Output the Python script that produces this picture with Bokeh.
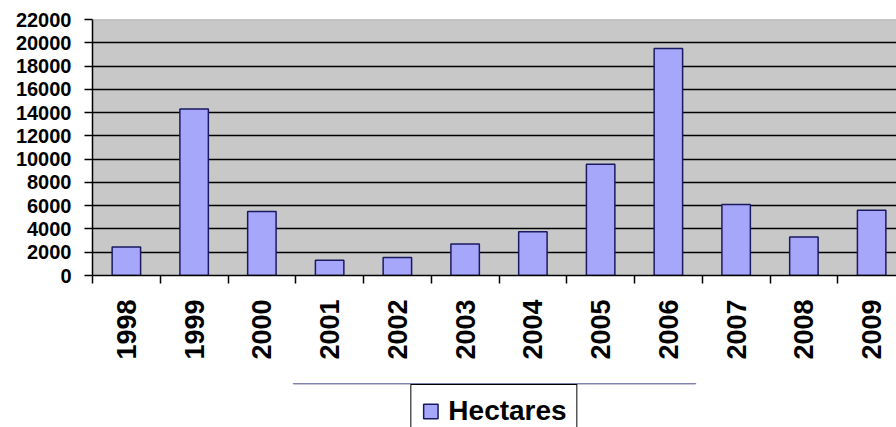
import math
from bokeh.plotting import figure
from bokeh.layouts import column
from bokeh.models import (Range1d, FixedTicker, Legend, LegendItem, Span, ColumnDataSource)
from bokeh.embed import file_html
from bokeh.resources import INLINE

years = ["1998", "1999", "2000", "2001", "2002", "2003", "2004", "2005", "2006", "2007", "2008", "2009"]
hectares = [2450, 14300, 5500, 1300, 1550, 2700, 3750, 9550, 19500, 6100, 3300, 5600]
y_ticks = [0, 2000, 4000, 6000, 8000, 10000, 12000, 14000, 16000, 18000, 20000, 22000]
series_name = "Hectares"

BAR_FILL = "#A6A6FA"
BAR_LINE = "#1A1A60"

xs = [i + 0.5 for i in range(len(years))]
src = ColumnDataSource(dict(x=xs, top=hectares))

fig = figure(width=896, height=383, output_backend="svg", toolbar_location=None,
             x_range=Range1d(0, 11.867), y_range=Range1d(0, 22000),
             min_border_left=92, min_border_right=0, min_border_top=19, min_border_bottom=108)
fig.background_fill_color = "#C8C8C8"
fig.border_fill_color = "white"
fig.outline_line_color = None

fig.vbar(x="x", top="top", width=0.42, source=src, fill_color=BAR_FILL,
         line_color=BAR_LINE, line_width=1.5)

# y axis
fig.yaxis.ticker = FixedTicker(ticks=y_ticks)
fig.yaxis.major_tick_out = 8
fig.yaxis.major_tick_in = 0
fig.yaxis.minor_tick_line_color = None
fig.yaxis.axis_line_color = "black"
fig.yaxis.axis_line_width = 1.5
fig.yaxis.major_tick_line_width = 1.5
fig.yaxis.major_label_standoff = 13
fig.yaxis.major_label_text_font = "Liberation Sans"
fig.yaxis.major_label_text_font_style = "bold"
fig.yaxis.major_label_text_font_size = "20px"
fig.yaxis.major_label_text_color = "black"

# x axis
fig.xaxis.ticker = FixedTicker(ticks=xs, minor_ticks=list(range(len(years) + 1)))
fig.xaxis.major_label_overrides = {x: y for x, y in zip(xs, years)}
fig.xaxis.major_tick_out = 0
fig.xaxis.major_tick_in = 0
fig.xaxis.minor_tick_out = 8
fig.xaxis.minor_tick_in = 0
fig.xaxis.minor_tick_line_color = "black"
fig.xaxis.minor_tick_line_width = 1.5
fig.xaxis.axis_line_color = "black"
fig.xaxis.axis_line_width = 1.5
fig.xaxis.major_label_orientation = math.pi / 2
fig.xaxis.major_label_standoff = 16
fig.xaxis.major_label_text_font = "Liberation Sans"
fig.xaxis.major_label_text_font_style = "bold"
fig.xaxis.major_label_text_font_size = "27px"
fig.xaxis.major_label_text_color = "black"

# grid
fig.xgrid.grid_line_color = None
fig.ygrid.ticker = FixedTicker(ticks=y_ticks[1:-1])
fig.ygrid.grid_line_color = "black"
fig.ygrid.grid_line_width = 1.5
fig.add_layout(Span(location=22000, dimension="width", line_color="#A8A8A8", line_width=1.5))

# legend strip below the chart (same frame alignment as the chart)
leg = figure(width=896, height=44, output_backend="svg", toolbar_location=None,
             x_range=Range1d(0, 1), y_range=Range1d(-2000, -1000),
             min_border_left=92, min_border_right=0, min_border_top=0, min_border_bottom=0)
leg.axis.visible = False
leg.grid.visible = False
leg.outline_line_color = None
leg.background_fill_color = "white"
leg.border_fill_color = "white"
# swatch renderer for the legend key (its bar lies well outside this strip's visible range)
swatch = leg.vbar(x=[0.5], top=hectares[:1], width=0.5, fill_color=BAR_FILL,
                  line_color=BAR_LINE, line_width=1.5)

legend = Legend(items=[LegendItem(label=series_name, renderers=[swatch])],
                location="top_center", orientation="horizontal",
                label_text_font="Liberation Sans", label_text_font_style="bold",
                label_text_font_size="28px", label_text_color="black",
                glyph_width=18, glyph_height=18, label_standoff=9, padding=10,
                border_line_color="black", border_line_alpha=1.0, border_line_width=1.5,
                background_fill_color="white", background_fill_alpha=1.0, margin=1)
leg.add_layout(legend, "center")

p = column(fig, leg, spacing=0)

open("out.html", "w").write(file_html(p, INLINE))
